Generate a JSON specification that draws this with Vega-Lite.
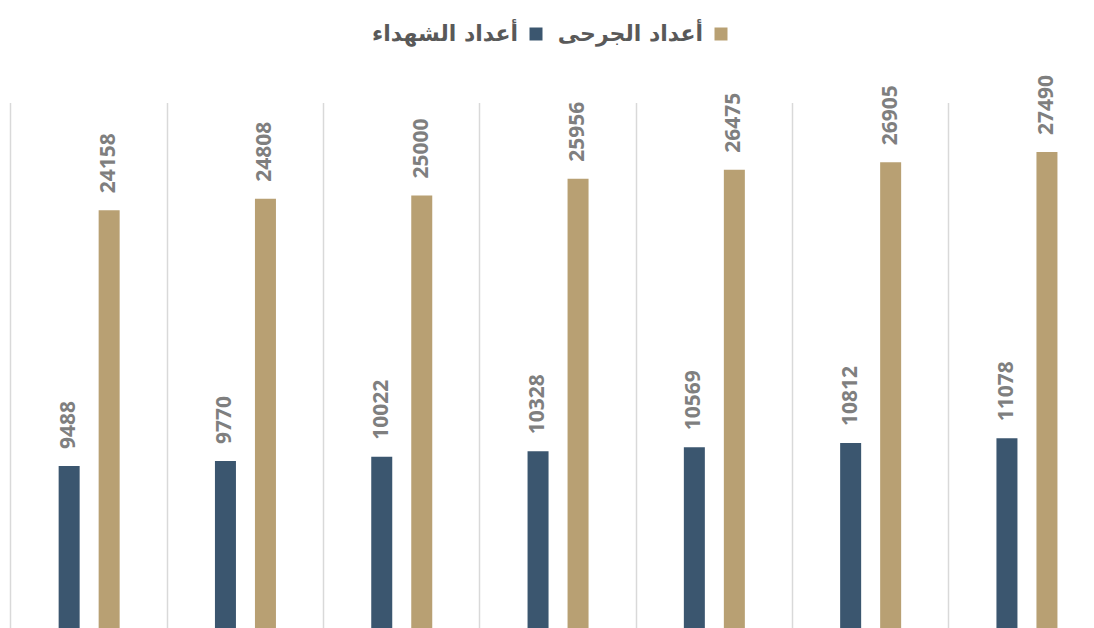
{
  "$schema": "https://vega.github.io/schema/vega-lite/v6.json",
  "width": 1083,
  "height": 522,
  "autosize": {"type": "none"},
  "padding": {"left": 11, "top": 106, "right": 0, "bottom": 0},
  "background": "white",
  "config": {"view": {"stroke": null}},
  "data": {
    "values": [
      {"g": "1", "s": "أعداد الشهداء", "v": 9488},
      {"g": "1", "s": "أعداد الجرحى", "v": 24158},
      {"g": "2", "s": "أعداد الشهداء", "v": 9770},
      {"g": "2", "s": "أعداد الجرحى", "v": 24808},
      {"g": "3", "s": "أعداد الشهداء", "v": 10022},
      {"g": "3", "s": "أعداد الجرحى", "v": 25000},
      {"g": "4", "s": "أعداد الشهداء", "v": 10328},
      {"g": "4", "s": "أعداد الجرحى", "v": 25956},
      {"g": "5", "s": "أعداد الشهداء", "v": 10569},
      {"g": "5", "s": "أعداد الجرحى", "v": 26475},
      {"g": "6", "s": "أعداد الشهداء", "v": 10812},
      {"g": "6", "s": "أعداد الجرحى", "v": 26905},
      {"g": "7", "s": "أعداد الشهداء", "v": 11078},
      {"g": "7", "s": "أعداد الجرحى", "v": 27490}
    ]
  },
  "encoding": {
    "x": {
      "field": "g",
      "type": "nominal",
      "sort": null,
      "scale": {"range": [0, 1094.1], "paddingInner": 0.6097, "paddingOuter": 0.30485},
      "axis": {
        "title": null,
        "labels": false,
        "ticks": false,
        "domain": false,
        "grid": true,
        "gridColor": "#d9d9d9",
        "gridWidth": 1.5,
        "bandPosition": -0.7811
      }
    },
    "xOffset": {
      "field": "s",
      "type": "nominal",
      "sort": ["أعداد الشهداء", "أعداد الجرحى"],
      "scale": {"paddingInner": 0.475, "paddingOuter": 0}
    },
    "y": {
      "field": "v",
      "type": "quantitative",
      "scale": {"domain": [0, 30130], "range": [525.5, 0], "nice": false},
      "axis": null
    }
  },
  "layer": [
    {
      "mark": {"type": "bar"},
      "encoding": {
        "color": {
          "field": "s",
          "type": "nominal",
          "sort": ["أعداد الشهداء", "أعداد الجرحى"],
          "scale": {"range": ["#3b566f", "#b8a073"]},
          "legend": {
            "orient": "none",
            "legendX": 514,
            "legendY": -83,
            "direction": "horizontal",
            "title": null,
            "symbolType": "square",
            "symbolSize": 169,
            "symbolStrokeWidth": 0,
            "labelAlign": "right",
            "labelOffset": -29,
            "labelFont": "DejaVu Sans",
            "labelFontWeight": "bold",
            "labelFontSize": 22,
            "labelColor": "#595959",
            "columnPadding": 14,
            "labelLimit": 300
          }
        }
      }
    },
    {
      "mark": {
        "type": "text",
        "angle": -90,
        "align": "left",
        "baseline": "middle",
        "dx": 17,
        "font": "Open Sans",
        "fontWeight": "bold",
        "fontSize": 21,
        "color": "#7f7f7f"
      },
      "encoding": {"text": {"field": "v", "type": "quantitative", "format": "d"}}
    }
  ]
}
